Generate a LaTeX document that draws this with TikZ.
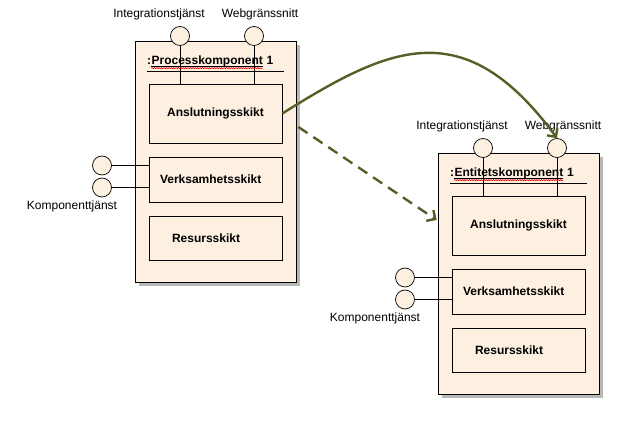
\documentclass[tikz,border=0pt]{standalone}
\usepackage{fontspec}
\setmainfont{Liberation Sans}
\usetikzlibrary{positioning, calc, shadows, arrows.meta, decorations.pathmorphing}

\definecolor{persika}{RGB}{253,240,225}
\definecolor{oliv}{RGB}{88,94,38}

\begin{document}
\begin{tikzpicture}[x=1pt, y=-1pt,
    komp/.style={draw, line width=0.8pt, fill=persika, minimum width=161, minimum height=241,
        drop shadow={shadow xshift=4pt, shadow yshift=-4pt, fill=black!28, opacity=1}},
    lager/.style={draw, line width=0.7pt, fill=persika, minimum width=133,
        font=\fontsize{12}{14}\selectfont\bfseries},
    port/.style={circle, draw, line width=0.7pt, fill=persika, minimum size=19, inner sep=0pt},
    lbl/.style={inner sep=0pt, font=\fontsize{12}{14}\selectfont},
    ttl/.style={inner sep=0pt, font=\fontsize{12}{14}\selectfont\bfseries},
    flow/.style={draw=oliv, line width=2.4pt, -{Straight Barb[length=6.5pt, width=13pt]}}]

    \useasboundingbox (0,0) rectangle (641,427);

    % de två komponenterna
    \foreach \p/\titel/\dx/\dy in {p/Processkomponent/0/0, e/Entitetskomponent/303/112} {
        \begin{scope}[shift={(\dx,\dy)}]
            \node[komp] (\p-box) at (215.5,161.5) {};

            % gränssnitt (lollipops)
            \node[port] (\p-int) at (180,36) {};
            \node[port] (\p-web) at (254,36) {};
            \node[port] (\p-kt1) at (102,165.5) {};
            \node[port] (\p-kt2) at (102,187.5) {};

            \node[lbl, above=6pt of \p-int, xshift=-21pt] (\p-intlbl) {Integrationstjänst};
            \node[lbl, above=6pt of \p-web, xshift=6pt] (\p-weblbl) {Webgränssnitt};
            \node[lbl, below=3pt of \p-kt2, xshift=-30pt] (\p-ktlbl) {Komponenttjänst};

            % skikten
            \node[lager, minimum height=59] (\p-ans) at (215.5,113.5) {Anslutningsskikt};
            \node[lager, minimum height=45, align=left, inner xsep=11pt, text width=111pt]
                (\p-ver) at (215.5,179.5) {Verksamhetsskikt};
            \node[lager, minimum height=44, align=left, inner xsep=23pt, text width=87pt]
                (\p-res) at (215.5,238) {Resursskikt};

            \draw[line width=0.7pt] (\p-int) -- (\p-int |- \p-ans.north);
            \draw[line width=0.7pt] (\p-web) -- (\p-web |- \p-ans.north);
            \draw[line width=0.7pt] (\p-kt1) -- (\p-kt1 -| \p-ver.west);
            \draw[line width=0.7pt] (\p-kt2) -- (\p-kt2 -| \p-ver.west);

            % rubrik
            \node[ttl, anchor=base west] (\p-colon) at (147,65) {:};
            \node[ttl, anchor=base west] (\p-name) at (\p-colon.base east) {\titel};
            \node[ttl, anchor=base west] (\p-num) at (\p-name.base east) {~1};
            \draw[line width=0.6pt] ($(\p-name.base west)+(0,1.5)$) -- ($(\p-name.base east)+(0,1.5)$);
            \draw[red, line width=0.6pt, decorate, decoration={snake, amplitude=0.6pt, segment length=2.4pt}]
                ($(\p-name.base west)+(0,3.2)$) -- ($(\p-name.base east)+(0,3.2)$);
            \draw[line width=0.7pt] (147,71) -- (284,71);
        \end{scope}
    }

    % anrop mellan komponenterna
    \draw[flow] (p-ans.east) .. controls (390,46) and (464,12) .. (e-web.north);

    \coordinate (dstart) at ($(p-box.east)+(2,-34.5)$);
    \coordinate (dend) at ($(e-box.west)+(-1,-53.5)$);
    \draw[flow, dash pattern=on 11pt off 7pt] (dstart) -- (dend);
\end{tikzpicture}
\end{document}
